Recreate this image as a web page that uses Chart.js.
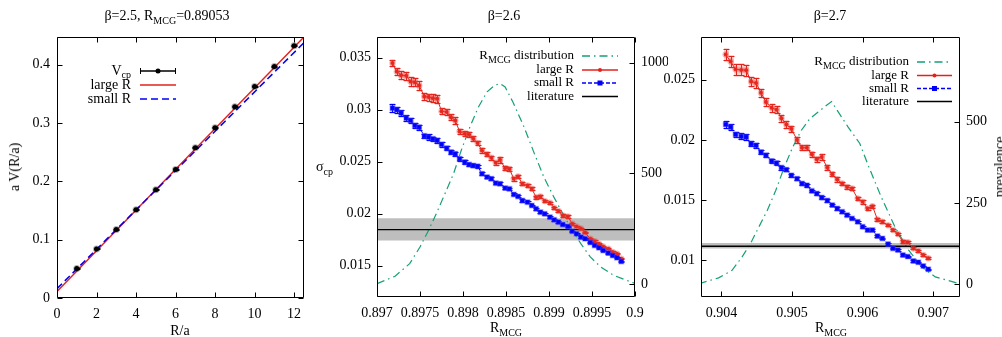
<!DOCTYPE html>
<html>
<head>
<meta charset="utf-8">
<script src="https://cdn.jsdelivr.net/npm/chart.js@4.4.1/dist/chart.umd.min.js"></script>
<style>
body { margin: 0; background: #fff; width: 1002px; height: 337px; position: relative; overflow: hidden; font-family: "Liberation Serif", "Times New Roman", serif; }
canvas { position: absolute; top: 0; }
.lbl { position: absolute; font-size: 14px; line-height: 16px; white-space: nowrap; color: #000; }
.lbl sub { font-size: 10px; vertical-align: -4px; line-height: 0; }
</style>
</head>
<body>
<canvas id="c1" width="334" height="337" style="left:0px"></canvas>
<canvas id="c2" width="334" height="337" style="left:334px"></canvas>
<canvas id="c3" width="342" height="337" style="left:660px"></canvas>

<div class="lbl" style="left:167px;top:8px;transform:translateX(-50%)">β=2.5, R<sub>MCG</sub>=0.89053</div>
<div class="lbl" style="left:504px;top:8px;transform:translateX(-50%)">β=2.6</div>
<div class="lbl" style="left:830px;top:8px;transform:translateX(-50%)">β=2.7</div>
<div class="lbl" style="left:15px;top:167px;transform:translate(-50%,-50%) rotate(-90deg)">a V(R/a)</div>
<div class="lbl" style="left:316px;top:159px">σ<sub>cp</sub></div>
<div class="lbl" style="left:1000px;top:167px;transform:translate(-50%,-50%) rotate(-90deg)">prevalence</div>
<div class="lbl" style="left:180px;top:323px;transform:translateX(-50%)">R/a</div>
<div class="lbl" style="left:506px;top:320px;transform:translateX(-50%)">R<sub>MCG</sub></div>
<div class="lbl" style="left:831px;top:320px;transform:translateX(-50%)">R<sub>MCG</sub></div>

<script>
// ---- beta = 2.5 : static potential ----
const p1R = [1, 2, 3, 4, 5, 6, 7, 8, 9, 10, 11, 12];
const p1V = [0.0504, 0.0841, 0.1173, 0.1511, 0.1854, 0.2203, 0.2575, 0.2918, 0.3279, 0.3628, 0.3971, 0.4326];
const p1Err = [0.0008, 0.0008, 0.0008, 0.0008, 0.0009, 0.0009, 0.001, 0.001, 0.001, 0.0011, 0.0011, 0.0012];
const p1FitX = [0, 12.5];
const p1LargeR = [0.0112, 0.4475];
const p1SmallR = [0.0160, 0.4378];
const p1XTicks = [0, 2, 4, 6, 8, 10, 12];
const p1XLabels = ['0', '2', '4', '6', '8', '10', '12'];
const p1YTicks = [0, 0.1, 0.2, 0.3, 0.4];
const p1YLabels = ['0', '0.1', '0.2', '0.3', '0.4'];

// ---- beta = 2.6 ----
const p2X = [0.89718, 0.89723, 0.89728, 0.89734, 0.89739, 0.89744, 0.89749, 0.89755, 0.89760, 0.89765,
  0.89770, 0.89775, 0.89781, 0.89786, 0.89791, 0.89796, 0.89802, 0.89807, 0.89812, 0.89817,
  0.89822, 0.89828, 0.89833, 0.89838, 0.89843, 0.89849, 0.89854, 0.89859, 0.89864, 0.89869,
  0.89875, 0.89880, 0.89885, 0.89890, 0.89895, 0.89901, 0.89906, 0.89911, 0.89916, 0.89922,
  0.89927, 0.89932, 0.89937, 0.89942, 0.89948, 0.89953, 0.89958, 0.89963, 0.89969, 0.89974,
  0.89979, 0.89984];
const p2Large = [0.03449, 0.03369, 0.03333, 0.03327, 0.03272, 0.03266, 0.03234, 0.03128, 0.03122, 0.03112,
  0.03106, 0.02987, 0.02978, 0.02929, 0.02897, 0.02792, 0.02769, 0.02763, 0.02721, 0.02680,
  0.02609, 0.02571, 0.02538, 0.02490, 0.02519, 0.02439, 0.02431, 0.02337, 0.02359, 0.02289,
  0.02273, 0.02240, 0.02160, 0.02167, 0.02122, 0.02106, 0.02058, 0.02026, 0.01984, 0.01974,
  0.01904, 0.01878, 0.01859, 0.01820, 0.01760, 0.01737, 0.01712, 0.01686, 0.01664, 0.01632,
  0.01615, 0.01567];
const p2LargeErr = [0.00032, 0.00036, 0.00036, 0.00038, 0.00040, 0.00040, 0.00044, 0.00034, 0.00034, 0.00036,
  0.00040, 0.00030, 0.00030, 0.00028, 0.00030, 0.00025, 0.00025, 0.00023, 0.00023, 0.00021,
  0.00021, 0.00020, 0.00020, 0.00018, 0.00028, 0.00017, 0.00017, 0.00017, 0.00015, 0.00014,
  0.00014, 0.00014, 0.00013, 0.00012, 0.00012, 0.00011, 0.00011, 0.00011, 0.00010, 0.00010,
  0.00009, 0.00008, 0.00008, 0.00008, 0.00007, 0.00007, 0.00007, 0.00006, 0.00006, 0.00006,
  0.00005, 0.00005];
const p2Small = [0.03016, 0.03000, 0.02968, 0.02920, 0.02897, 0.02849, 0.02833, 0.02750, 0.02737, 0.02721,
  0.02705, 0.02667, 0.02631, 0.02593, 0.02577, 0.02529, 0.02497, 0.02474, 0.02465, 0.02458,
  0.02385, 0.02353, 0.02337, 0.02295, 0.02289, 0.02247, 0.02240, 0.02186, 0.02167, 0.02128,
  0.02112, 0.02080, 0.02048, 0.02016, 0.02000, 0.01968, 0.01942, 0.01920, 0.01897, 0.01878,
  0.01833, 0.01808, 0.01776, 0.01760, 0.01724, 0.01696, 0.01673, 0.01647, 0.01622, 0.01599,
  0.01577, 0.01542];
const p2SmallErr = [0.00038, 0.00030, 0.00030, 0.00028, 0.00026, 0.00028, 0.00024, 0.00022, 0.00026, 0.00022,
  0.00022, 0.00020, 0.00020, 0.00022, 0.00020, 0.00018, 0.00017, 0.00016, 0.00015, 0.00015,
  0.00014, 0.00013, 0.00013, 0.00012, 0.00012, 0.00011, 0.00011, 0.00010, 0.00010, 0.00010,
  0.00009, 0.00009, 0.00009, 0.00008, 0.00008, 0.00008, 0.00007, 0.00007, 0.00007, 0.00007,
  0.00006, 0.00006, 0.00006, 0.00006, 0.00005, 0.00005, 0.00005, 0.00005, 0.00005, 0.00004,
  0.00004, 0.00004];
const p2DistX = [0.897, 0.89721, 0.89738, 0.8975, 0.8976, 0.89769, 0.89779, 0.89789, 0.89798, 0.89808,
  0.89818, 0.89828, 0.89837, 0.89843, 0.89849, 0.89858, 0.89871, 0.89883, 0.89894, 0.89906,
  0.89916, 0.89927, 0.89937, 0.89948, 0.8996, 0.89975, 0.9];
const p2Dist = [1, 35, 92, 167, 243, 318, 408, 498, 604, 709,
  800, 868, 898, 905, 890, 822, 709, 589, 483, 390,
  318, 242, 182, 122, 77, 39, 2];
const p2Lit = 0.01848, p2LitHi = 0.01958, p2LitLo = 0.01744;
const p2XTicks = [0.897, 0.8975, 0.898, 0.8985, 0.899, 0.8995, 0.9];
const p2XLabels = ['0.897', '0.8975', '0.898', '0.8985', '0.899', '0.8995', '0.9'];
const p2YTicks = [0.015, 0.02, 0.025, 0.03, 0.035];
const p2YLabels = ['0.015', '0.02', '0.025', '0.03', '0.035'];
const p2Y2Ticks = [0, 500, 1000];
const p2Y2Labels = ['0', '500', '1000'];

// ---- beta = 2.7 ----
const p3X = [0.90406, 0.90413, 0.90420, 0.90428, 0.90435, 0.90442, 0.90449, 0.90456, 0.90463, 0.90471,
  0.90478, 0.90485, 0.90492, 0.90499, 0.90507, 0.90514, 0.90521, 0.90528, 0.90535, 0.90542,
  0.90550, 0.90557, 0.90564, 0.90571, 0.90578, 0.90585, 0.90593, 0.90600, 0.90607, 0.90614,
  0.90621, 0.90628, 0.90636, 0.90643, 0.90650, 0.90657, 0.90664, 0.90672, 0.90679, 0.90686,
  0.90693];
const p3Large = [0.02707, 0.02649, 0.02585, 0.02580, 0.02578, 0.02483, 0.02472, 0.02390, 0.02313, 0.02266,
  0.02249, 0.02180, 0.02128, 0.02092, 0.02001, 0.01935, 0.01935, 0.01880, 0.01839, 0.01858,
  0.01770, 0.01715, 0.01671, 0.01638, 0.01610, 0.01596, 0.01514, 0.01486, 0.01431, 0.01450,
  0.01340, 0.01321, 0.01293, 0.01252, 0.01219, 0.01156, 0.01150, 0.01100, 0.01081, 0.01045,
  0.01018];
const p3LargeErr = [0.00048, 0.00044, 0.00044, 0.00045, 0.00045, 0.00040, 0.00040, 0.00034, 0.00034, 0.00034,
  0.00030, 0.00028, 0.00028, 0.00026, 0.00026, 0.00023, 0.00023, 0.00021, 0.00021, 0.00021,
  0.00019, 0.00017, 0.00017, 0.00016, 0.00016, 0.00015, 0.00015, 0.00014, 0.00013, 0.00013,
  0.00012, 0.00012, 0.00011, 0.00010, 0.00010, 0.00010, 0.00009, 0.00009, 0.00008, 0.00008,
  0.00007];
const p3Small = [0.02128, 0.02106, 0.02045, 0.02029, 0.02023, 0.01968, 0.01954, 0.01899, 0.01872, 0.01825,
  0.01808, 0.01770, 0.01753, 0.01706, 0.01678, 0.01638, 0.01624, 0.01577, 0.01555, 0.01522,
  0.01497, 0.01459, 0.01431, 0.01404, 0.01376, 0.01348, 0.01321, 0.01280, 0.01252, 0.01252,
  0.01202, 0.01183, 0.01136, 0.01100, 0.01087, 0.01045, 0.01032, 0.00996, 0.00985, 0.00954,
  0.00927];
const p3SmallErr = [0.00032, 0.00028, 0.00024, 0.00024, 0.00024, 0.00021, 0.00021, 0.00019, 0.00018, 0.00018,
  0.00016, 0.00016, 0.00014, 0.00014, 0.00013, 0.00012, 0.00012, 0.00011, 0.00011, 0.00010,
  0.00010, 0.00009, 0.00009, 0.00009, 0.00008, 0.00008, 0.00008, 0.00007, 0.00007, 0.00007,
  0.00006, 0.00006, 0.00006, 0.00006, 0.00005, 0.00005, 0.00005, 0.00005, 0.00005, 0.00004,
  0.00004];
const p3DistX = [0.90368, 0.90396, 0.90415, 0.90429, 0.90441, 0.90453, 0.90465, 0.90477, 0.90489, 0.90501,
  0.90513, 0.90525, 0.90537, 0.90549, 0.90556, 0.90579, 0.90596, 0.90608, 0.90627, 0.90646,
  0.90665, 0.90684, 0.90703, 0.90739];
const p3Dist = [1, 19, 42, 83, 124, 176, 227, 289, 360, 422,
  473, 509, 530, 551, 562, 485, 433, 365, 265, 175,
  105, 52, 22, 0];
const p3Lit = 0.01118, p3LitHi = 0.01145, p3LitLo = 0.01100;
const p3XTicks = [0.904, 0.905, 0.906, 0.907];
const p3XLabels = ['0.904', '0.905', '0.906', '0.907'];
const p3YTicks = [0.01, 0.015, 0.02, 0.025];
const p3YLabels = ['0.01', '0.015', '0.02', '0.025'];
const p3Y2Ticks = [0, 250, 500];
const p3Y2Labels = ['0', '250', '500'];

const serif = "'Liberation Serif', 'Times New Roman', serif";
const red = 'rgb(228,34,28)';
const blue = 'rgb(0,0,250)';
const green = 'rgb(20,160,120)';

function pts(xs, ys) {
    return xs.map((x, i) => ({ x: x, y: ys[i] }));
}

function axis(pos, min, max, ticks, labels, size, pad) {
    const horiz = pos === 'bottom';
    return {
        type: 'linear', position: pos, min: min, max: max,
        afterBuildTicks: s => { s.ticks = ticks.map(v => ({ value: v })); },
        afterFit: s => { if (horiz) s.height = size; else s.width = size; },
        ticks: {
            callback: (v, i) => labels[i],
            font: { family: serif, size: 14 }, color: '#000',
            padding: pad, maxRotation: 0, autoSkip: false
        },
        grid: { display: false, drawTicks: false },
        border: { display: false }
    };
}

// box with inward tics, like gnuplot
const framePlugin = {
    id: 'frame',
    afterDatasetsDraw(chart, args, opts) {
        const ctx = chart.ctx, a = chart.chartArea;
        const L = Math.round(a.left) + 0.5, R = Math.round(a.right) - 0.5;
        const T = Math.round(a.top) + 0.5, B = Math.round(a.bottom) - 0.5;
        const len = 5;
        ctx.save();
        ctx.strokeStyle = '#000';
        ctx.lineWidth = 1;
        ctx.beginPath();
        ctx.rect(L, T, R - L, B - T);
        const xs = chart.scales.x;
        xs.ticks.forEach(t => {
            const p = Math.round(xs.getPixelForValue(t.value)) + 0.5;
            ctx.moveTo(p, B); ctx.lineTo(p, B - len);
            ctx.moveTo(p, T); ctx.lineTo(p, T + len);
        });
        const ys = chart.scales.y;
        ys.ticks.forEach(t => {
            const p = Math.round(ys.getPixelForValue(t.value)) + 0.5;
            ctx.moveTo(L, p); ctx.lineTo(L + len, p);
            if (opts.mirrorY) { ctx.moveTo(R, p); ctx.lineTo(R - len, p); }
        });
        const y2 = chart.scales.y2;
        if (y2) {
            y2.ticks.forEach(t => {
                const p = Math.round(y2.getPixelForValue(t.value)) + 0.5;
                ctx.moveTo(R, p); ctx.lineTo(R - len, p);
            });
        }
        ctx.stroke();
        ctx.restore();
    }
};

// vertical error bars under each series
const errorBars = {
    id: 'errorBars',
    beforeDatasetDraw(chart, args) {
        const ds = chart.data.datasets[args.index];
        if (!ds.errors) return;
        const ys = chart.scales[ds.yAxisID || 'y'];
        const a = chart.chartArea;
        const ctx = chart.ctx;
        ctx.save();
        ctx.beginPath();
        ctx.rect(a.left, a.top, a.right - a.left, a.bottom - a.top);
        ctx.clip();
        args.meta.data.forEach((pt, i) => {
            const v = ds.data[i].y, e = ds.errors[i];
            const y1 = Math.round(ys.getPixelForValue(v + e)) + 0.5;
            const y2 = Math.round(ys.getPixelForValue(v - e)) + 0.5;
            const x = Math.round(pt.x) + 0.5;
            ctx.strokeStyle = ds.haloColor;
            ctx.lineWidth = 5;
            ctx.beginPath(); ctx.moveTo(x, y1 - 1.5); ctx.lineTo(x, y2 + 1.5); ctx.stroke();
            ctx.strokeStyle = ds.errorColor;
            ctx.lineWidth = 1;
            ctx.beginPath();
            ctx.moveTo(x, y1); ctx.lineTo(x, y2);
            ctx.moveTo(x - 3, y1); ctx.lineTo(x + 3, y1);
            ctx.moveTo(x - 3, y2); ctx.lineTo(x + 3, y2);
            ctx.stroke();
        });
        ctx.restore();
    }
};

// key drawn right-aligned with line samples
const keyPlugin = {
    id: 'keyBox',
    afterDraw(chart, args, opts) {
        const ctx = chart.ctx;
        const big = opts.size + 'px ' + serif, small = '10px ' + serif;
        opts.items.forEach(it => {
            ctx.save();
            ctx.font = big;
            const w1 = ctx.measureText(it.text).width;
            const w3 = it.after ? ctx.measureText(it.after).width : 0;
            ctx.font = small;
            const w2 = it.sub ? ctx.measureText(it.sub).width : 0;
            let x = opts.textRight - (w1 + w2 + w3);
            ctx.fillStyle = '#000';
            ctx.textBaseline = 'middle';
            ctx.font = big;
            ctx.fillText(it.text, x, it.y);
            x += w1;
            if (it.sub) { ctx.font = small; ctx.fillText(it.sub, x, it.y + 4); x += w2; }
            if (it.after) { ctx.font = big; ctx.fillText(it.after, x, it.y); }

            const y = it.y;
            ctx.strokeStyle = it.color;
            ctx.lineWidth = 1.5;
            ctx.setLineDash(it.dash || []);
            ctx.beginPath(); ctx.moveTo(opts.x0, y); ctx.lineTo(opts.x1, y); ctx.stroke();
            ctx.setLineDash([]);
            const mx = (opts.x0 + opts.x1) / 2;
            ctx.fillStyle = it.color;
            if (it.caps) {
                ctx.lineWidth = 1;
                ctx.beginPath();
                ctx.moveTo(opts.x0 + 0.5, y - 3); ctx.lineTo(opts.x0 + 0.5, y + 3);
                ctx.moveTo(opts.x1 - 0.5, y - 3); ctx.lineTo(opts.x1 - 0.5, y + 3);
                ctx.stroke();
            }
            if (it.marker === 'dot') { ctx.beginPath(); ctx.arc(mx, y, it.r || 2, 0, Math.PI * 2); ctx.fill(); }
            if (it.marker === 'square') ctx.fillRect(mx - 2.5, y - 2.5, 5, 5);
            ctx.restore();
        });
    }
};

const baseOptions = (scales, padRight, frame, key) => ({
    responsive: false,
    animation: false,
    layout: { padding: { left: 0, right: padRight, top: 37, bottom: 0 } },
    scales: scales,
    plugins: { legend: { display: false }, tooltip: { enabled: false }, frame: frame, keyBox: key }
});

// ---- panel 1 ----
new Chart(document.getElementById('c1'), {
    type: 'line',
    data: {
        datasets: [
            {
                label: 'Vcp', data: pts(p1R, p1V), errors: p1Err, showLine: false,
                pointRadius: 2.5, pointBackgroundColor: '#000', pointBorderColor: 'rgba(0,0,0,0.3)', pointBorderWidth: 2,
                errorColor: '#000', haloColor: 'rgba(0,0,0,0.15)', order: 1
            },
            { label: 'large R', data: pts(p1FitX, p1LargeR), borderColor: red, borderWidth: 1.5, pointRadius: 0, clip: 0, order: 3 },
            { label: 'small R', data: pts(p1FitX, p1SmallR), borderColor: blue, borderWidth: 1.5, borderDash: [7, 4], pointRadius: 0, clip: 0, order: 2 }
        ]
    },
    options: baseOptions({
        x: axis('bottom', 0, 12.5, p1XTicks, p1XLabels, 39, 8),
        y: axis('left', 0, 0.4475, p1YTicks, p1YLabels, 57, 7)
    }, 30, { mirrorY: true }, {
        size: 14, textRight: 131, x0: 140, x1: 176,
        items: [
            { text: 'V', sub: 'cp', y: 71, color: '#000', marker: 'dot', r: 2.5, caps: true },
            { text: 'large R', y: 85, color: red },
            { text: 'small R', y: 99, color: blue, dash: [7, 4] }
        ]
    }),
    plugins: [framePlugin, errorBars, keyPlugin]
});

// ---- panels 2 and 3 ----
function sigmaChart(id, cfg) {
    const xmin = cfg.xmin, xmax = cfg.xmax;
    new Chart(document.getElementById(id), {
        type: 'line',
        data: {
            datasets: [
                {
                    label: 'small R', data: pts(cfg.x, cfg.small), errors: cfg.smallErr,
                    borderColor: blue, borderWidth: 1, borderDash: [4, 2],
                    pointStyle: 'rect', pointRadius: 3.2, pointBackgroundColor: blue,
                    pointBorderColor: 'rgba(60,60,255,0.35)', pointBorderWidth: 1.5,
                    errorColor: blue, haloColor: 'rgba(90,90,255,0.25)', order: 1
                },
                {
                    label: 'large R', data: pts(cfg.x, cfg.large), errors: cfg.largeErr,
                    borderColor: red, borderWidth: 1,
                    pointRadius: 2, pointBackgroundColor: red,
                    pointBorderColor: 'rgba(235,60,50,0.35)', pointBorderWidth: 2.5,
                    errorColor: red, haloColor: 'rgba(235,70,60,0.25)', order: 2
                },
                {
                    label: 'literature', data: pts([xmin, xmax], [cfg.lit, cfg.lit]),
                    borderColor: '#000', borderWidth: 1.3, pointRadius: 0, clip: 0, order: 3
                },
                {
                    label: 'RMCG distribution', data: pts(cfg.distX, cfg.dist), yAxisID: 'y2',
                    borderColor: green, borderWidth: 1.2, borderDash: [8, 4, 1.5, 4], pointRadius: 0, clip: 0, order: 4
                },
                {
                    label: 'band hi', data: pts([xmin, xmax], [cfg.litHi, cfg.litHi]),
                    borderWidth: 0, pointRadius: 0, clip: 0, order: 6
                },
                {
                    label: 'band lo', data: pts([xmin, xmax], [cfg.litLo, cfg.litLo]),
                    borderWidth: 0, pointRadius: 0, clip: 0, fill: '-1', backgroundColor: '#bebebe', order: 5
                }
            ]
        },
        options: baseOptions({
            x: axis('bottom', xmin, xmax, cfg.xTicks, cfg.xLabels, 40, 8),
            y: axis('left', cfg.ymin, cfg.ymax, cfg.yTicks, cfg.yLabels, cfg.yWidth, 6),
            y2: axis('right', cfg.y2min, cfg.y2max, cfg.y2Ticks, cfg.y2Labels, cfg.y2Width, 6)
        }, 0, { mirrorY: false }, {
            size: 13, textRight: cfg.keyRight, x0: cfg.keyX0, x1: cfg.keyX1,
            items: [
                { text: 'R', sub: 'MCG', after: ' distribution', y: cfg.keyY[0], color: green, dash: [8, 4, 1.5, 4] },
                { text: 'large R', y: cfg.keyY[1], color: red, marker: 'dot' },
                { text: 'small R', y: cfg.keyY[2], color: blue, dash: [4, 2], marker: 'square' },
                { text: 'literature', y: cfg.keyY[3], color: '#000' }
            ]
        }),
        plugins: [framePlugin, errorBars, keyPlugin]
    });
}

sigmaChart('c2', {
    x: p2X, large: p2Large, largeErr: p2LargeErr, small: p2Small, smallErr: p2SmallErr,
    distX: p2DistX, dist: p2Dist, lit: p2Lit, litHi: p2LitHi, litLo: p2LitLo,
    xmin: 0.897, xmax: 0.9, ymin: 0.012, ymax: 0.037, y2min: -59, y2max: 1116,
    xTicks: p2XTicks, xLabels: p2XLabels, yTicks: p2YTicks, yLabels: p2YLabels,
    y2Ticks: p2Y2Ticks, y2Labels: p2Y2Labels, yWidth: 43, y2Width: 33,
    keyRight: 240, keyX0: 248, keyX1: 284, keyY: [56, 70, 83, 96.5]
});

sigmaChart('c3', {
    x: p3X, large: p3Large, largeErr: p3LargeErr, small: p3Small, smallErr: p3SmallErr,
    distX: p3DistX, dist: p3Dist, lit: p3Lit, litHi: p3LitHi, litLo: p3LitLo,
    xmin: 0.90371, xmax: 0.90738, ymin: 0.00697, ymax: 0.02853, y2min: -40, y2max: 761,
    xTicks: p3XTicks, xLabels: p3XLabels, yTicks: p3YTicks, yLabels: p3YLabels,
    y2Ticks: p3Y2Ticks, y2Labels: p3Y2Labels, yWidth: 41, y2Width: 42,
    keyRight: 249, keyX0: 257, keyX1: 292, keyY: [62, 75.5, 88.5, 101.5]
});
</script>
</body>
</html>
